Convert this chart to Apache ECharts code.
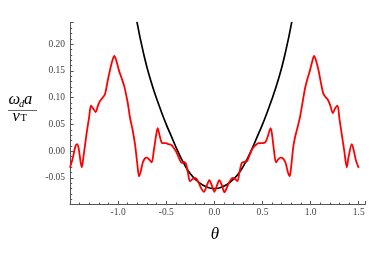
<!DOCTYPE html>
<html>
<head>
<meta charset="utf-8">
<script src="https://cdn.jsdelivr.net/npm/echarts@6/dist/echarts.min.js"></script>
<style>html,body{margin:0;padding:0;background:#fff;}#c{width:374px;height:253px;}</style>
</head>
<body>
<div id="c"></div>
<script>
// Red curve (theta, omega_d a / v_T)
var redTheta = [-1.50,-1.47,-1.445,-1.427,-1.41,-1.39,-1.378,-1.36,-1.33,-1.30,-1.282,-1.26,-1.233,-1.21,-1.188,-1.16,-1.136,-1.11,-1.08,-1.055,-1.040,-1.02,-0.99,-0.965,-0.936,-0.90,-0.876,-0.85,-0.824,-0.80,-0.783,-0.765,-0.745,-0.72,-0.70,-0.675,-0.651,-0.63,-0.605,-0.589,-0.57,-0.55,-0.537,-0.50,-0.478,-0.45,-0.426,-0.40,-0.374,-0.355,-0.339,-0.315,-0.294,-0.275,-0.253,-0.225,-0.201,-0.18,-0.16,-0.135,-0.110,-0.08,-0.052,-0.025,0.000,0.025,0.052,0.08,0.105,0.13,0.155,0.19,0.215,0.240,0.26,0.285,0.31,0.337,0.36,0.39,0.41,0.44,0.46,0.50,0.53,0.55,0.585,0.60,0.62,0.641,0.665,0.69,0.715,0.74,0.765,0.783,0.80,0.82,0.837,0.865,0.891,0.92,0.943,0.97,0.995,1.02,1.036,1.055,1.081,1.11,1.133,1.16,1.179,1.205,1.231,1.255,1.279,1.30,1.324,1.35,1.376,1.395,1.428,1.45,1.473,1.50];
var redOmega = [-0.031,-0.012,0.008,0.013,0.005,-0.020,-0.030,-0.010,0.030,0.065,0.085,0.080,0.073,0.085,0.094,0.100,0.107,0.130,0.155,0.172,0.178,0.170,0.150,0.137,0.121,0.090,0.062,0.040,0.012,-0.025,-0.047,-0.038,-0.022,-0.013,-0.012,-0.016,-0.021,0.000,0.030,0.043,0.030,0.017,0.015,0.015,0.013,0.012,0.007,0.000,-0.010,-0.018,-0.022,-0.020,-0.024,-0.040,-0.056,-0.052,-0.050,-0.053,-0.060,-0.070,-0.076,-0.065,-0.054,-0.065,-0.076,-0.065,-0.054,-0.065,-0.077,-0.068,-0.058,-0.050,-0.052,-0.056,-0.040,-0.022,-0.020,-0.019,-0.010,0.003,0.008,0.013,0.015,0.015,0.017,0.025,0.043,0.030,0.000,-0.021,-0.015,-0.012,-0.014,-0.022,-0.040,-0.047,-0.025,0.008,0.025,0.045,0.065,0.095,0.118,0.137,0.152,0.170,0.178,0.170,0.152,0.125,0.107,0.100,0.096,0.085,0.071,0.080,0.085,0.060,0.031,0.000,-0.030,-0.010,0.013,0.000,-0.019,-0.031];
// Black curve
var blackTheta = [-0.805,-0.74,-0.67,-0.58,-0.50,-0.45,-0.39,-0.32,-0.25,-0.17,-0.08,0.00,0.08,0.17,0.25,0.32,0.39,0.45,0.50,0.58,0.67,0.74,0.805];
var blackOmega = [0.242,0.186,0.137,0.088,0.050,0.029,0.004,-0.022,-0.042,-0.057,-0.067,-0.070,-0.067,-0.057,-0.042,-0.022,0.004,0.029,0.050,0.088,0.137,0.186,0.242];
// Tick labels
var xTickLabels = [-1.0,-0.5,0.0,0.5,1.0,1.5];
var yTickLabels = [-0.05,0.00,0.05,0.10,0.15,0.20];

function zip(a,b){return a.map(function(v,i){return [v,b[i]];});}
function has(list,v){for(var i=0;i<list.length;i++){if(Math.abs(list[i]-v)<1e-6)return true;}return false;}

var chart = echarts.init(document.getElementById('c'), null, {renderer:'canvas'});
var axisColor = '#555';
var labelFont = {fontFamily:'Liberation Serif', fontSize:9.5, color:'#444'};
chart.setOption({
  animation:false,
  grid:{left:70, right:9, top:22.7, bottom:48.3, containLabel:false},
  xAxis:{
    type:'value', min:-1.5, max:1.565, interval:0.5,
    axisLine:{show:true, onZero:false, lineStyle:{color:axisColor, width:1}},
    axisTick:{show:true, inside:true, length:3.7, lineStyle:{color:axisColor}},
    minorTick:{show:true, splitNumber:5, length:2.2, lineStyle:{color:axisColor}},
    splitLine:{show:false}, minorSplitLine:{show:false},
    axisLabel:Object.assign({margin:3, formatter:function(v){return has(xTickLabels,v)?v.toFixed(1):'';}}, labelFont)
  },
  yAxis:{
    type:'value', min:-0.1, max:0.24, interval:0.05,
    axisLine:{show:true, onZero:false, lineStyle:{color:axisColor, width:1}},
    axisTick:{show:true, inside:true, length:3.7, lineStyle:{color:axisColor}},
    minorTick:{show:true, splitNumber:5, length:2.2, lineStyle:{color:axisColor}},
    splitLine:{show:false}, minorSplitLine:{show:false},
    axisLabel:Object.assign({margin:5, formatter:function(v){return has(yTickLabels,v)?v.toFixed(2):'';}}, labelFont)
  },
  series:[
    {type:'line', data:zip(blackTheta,blackOmega), smooth:0.5, showSymbol:false, clip:true,
     lineStyle:{color:'#000', width:1.7}, z:2},
    {type:'line', data:zip(redTheta,redOmega), smooth:0.3, showSymbol:false, clip:true,
     lineStyle:{color:'#ff0000', width:1.8}, z:3}
  ],
  graphic:[
    {type:'text', x:8.5, y:99.5, style:{text:'ω', fontFamily:'Liberation Serif', fontStyle:'italic', fontSize:16.5, fill:'#000', align:'left', verticalAlign:'middle'}},
    {type:'text', x:19, y:104, style:{text:'d', fontFamily:'Liberation Serif', fontStyle:'italic', fontSize:10.5, fill:'#000', align:'left', verticalAlign:'middle'}},
    {type:'text', x:24, y:99.5, style:{text:'a', fontFamily:'Liberation Serif', fontStyle:'italic', fontSize:16.5, fill:'#000', align:'left', verticalAlign:'middle'}},
    {type:'line', shape:{x1:8, y1:110.5, x2:37, y2:110.5}, style:{stroke:'#666', lineWidth:1}},
    {type:'text', x:12.5, y:116.5, style:{text:'v', fontFamily:'Liberation Serif', fontStyle:'italic', fontSize:16.5, fill:'#000', align:'left', verticalAlign:'middle'}},
    {type:'text', x:20.5, y:118.7, style:{text:'T', fontFamily:'Liberation Serif', fontSize:10.5, fill:'#000', align:'left', verticalAlign:'middle'}},
    {type:'text', x:215, y:234.5, style:{text:'θ', fontFamily:'Liberation Serif', fontStyle:'italic', fontSize:17, fill:'#000', align:'center', verticalAlign:'middle'}}
  ]
});
</script>
</body>
</html>
